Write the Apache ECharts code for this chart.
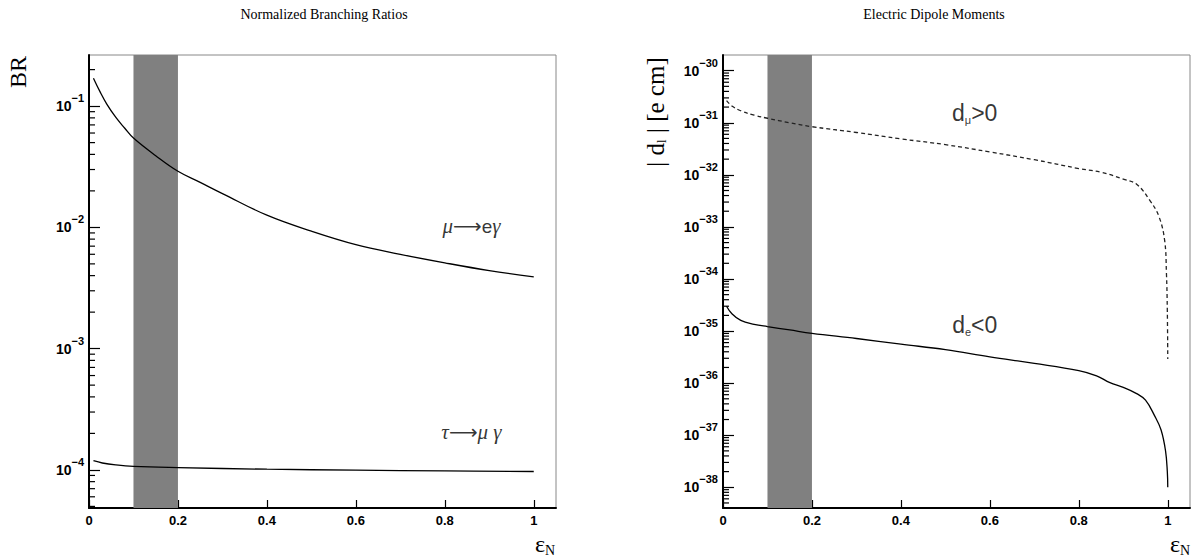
<!DOCTYPE html>
<html>
<head>
<meta charset="utf-8">
<script src="https://cdn.jsdelivr.net/npm/echarts@6.0.0/dist/echarts.min.js"></script>
<style>
  html, body { margin: 0; padding: 0; background: #fff; }
  #chart { width: 1194px; height: 556px; }
</style>
</head>
<body>
<div id="chart"></div>
<script>
  // ---- data ----
  const xTicks = [0, 0.2, 0.4, 0.6, 0.8, 1]
  const band = [0.1, 0.2]

  // left: normalized branching ratios
  const meg_x = [0.01, 0.025, 0.04, 0.06, 0.08, 0.1, 0.15, 0.2, 0.25, 0.3, 0.4, 0.5, 0.6, 0.7, 0.8, 0.9, 1.0]
  const meg_y = [0.17, 0.131, 0.104, 0.081, 0.066, 0.0545, 0.039, 0.029, 0.0235, 0.019, 0.0126, 0.0093, 0.0072, 0.0060, 0.0051, 0.0044, 0.0039]
  const tmg_x = [0.01, 0.03, 0.06, 0.1, 0.2, 0.4, 0.6, 0.8, 1.0]
  const tmg_y = [1.19e-4, 1.14e-4, 1.10e-4, 1.07e-4, 1.045e-4, 1.013e-4, 0.995e-4, 0.98e-4, 0.97e-4]

  // right: electric dipole moments |d_l| [e cm]
  const dmu_x = [0.008, 0.02, 0.04, 0.07, 0.1, 0.15, 0.2, 0.3, 0.4, 0.5, 0.6, 0.7, 0.8, 0.85, 0.9, 0.93, 0.96, 0.98, 0.993, 0.997, 0.999, 1.0]
  const dmu_y = [2.65e-31, 2.1e-31, 1.7e-31, 1.4e-31, 1.22e-31, 1.0e-31, 8.4e-32, 6.5e-32, 4.9e-32, 3.8e-32, 2.75e-32, 1.95e-32, 1.32e-32, 1.12e-32, 8.3e-33, 6.6e-33, 3.2e-33, 1.6e-33, 5.5e-34, 1.3e-34, 2.5e-35, 2.9e-36]
  const de_x = [0.008, 0.02, 0.04, 0.07, 0.1, 0.15, 0.2, 0.3, 0.4, 0.5, 0.6, 0.7, 0.8, 0.84, 0.87, 0.9, 0.93, 0.95, 0.97, 0.985, 0.995, 0.999, 1.0]
  const de_y = [3.0e-35, 2.15e-35, 1.6e-35, 1.35e-35, 1.22e-35, 1.05e-35, 9.0e-36, 7.2e-36, 5.6e-36, 4.4e-36, 3.2e-36, 2.4e-36, 1.74e-36, 1.38e-36, 1.02e-36, 8.3e-37, 6.3e-37, 4.7e-37, 2.4e-37, 1.26e-37, 5.0e-38, 2.0e-38, 1.0e-38]

  // axis ranges (decades) and major ticks
  const leftRange = [4.85e-5, 0.264]
  const leftDecades = [-4, -3, -2, -1]
  const rightRange = [4.0e-39, 2.0e-30]
  const rightDecades = [-38, -37, -36, -35, -34, -33, -32, -31, -30]

  // curve labels: [x, value]
  const megLabelPos = [0.86, 1.02e-2]
  const tmgLabelPos = [0.86, 2.06e-4]
  const dmuLabelPos = [0.566, 1.55e-31]
  const deLabelPos = [0.566, 1.32e-35]

  const lg = Math.log10
  const pts = (xs, ys) => xs.map((x, i) => [x, lg(ys[i])])

  // positions of the 2..9 minor ticks of each decade, in exponent units
  function minorTicks(range) {
    const out = []
    const lo = Math.floor(lg(range[0])), hi = Math.ceil(lg(range[1]))
    for (let n = lo; n <= hi; n++) {
      for (let k = 2; k <= 9; k++) {
        const v = lg(k) + n
        if (v > lg(range[0]) && v < lg(range[1])) out.push(v)
      }
    }
    return out
  }

  const sans = '"Liberation Sans", Arial, sans-serif'
  const serif = '"Liberation Serif", "Times New Roman", serif'

  const expLabel = {
    inside: false,
    margin: 5,
    formatter: v => '{b|10}{e|\u2212' + Math.abs(Math.round(v)) + '}',
    rich: {
      b: { fontFamily: sans, fontSize: 14, fontWeight: 'bold', color: '#000' },
      e: { fontFamily: sans, fontSize: 11, fontWeight: 'bold', color: '#000', padding: [0, 0, 16, 0] }
    }
  }

  function yAx(grid, range, decades) {
    return {
      type: 'value', gridIndex: grid, position: 'left',
      min: lg(range[0]), max: lg(range[1]),
      axisLine: { show: true, lineStyle: { color: '#000', width: 2 } },
      axisTick: { show: true, inside: true, length: 11, customValues: decades, lineStyle: { color: '#000', width: 1.2 } },
      axisLabel: Object.assign({ customValues: decades }, expLabel),
      splitLine: { show: false }
    }
  }
  function xAx(grid) {
    return {
      type: 'value', gridIndex: grid, min: 0, max: 1.05,
      axisLine: { show: true, lineStyle: { color: '#000', width: 2 } },
      axisTick: { show: true, inside: true, length: 8, customValues: xTicks, lineStyle: { color: '#000', width: 1.2 } },
      axisLabel: { customValues: xTicks, margin: 6, fontFamily: sans, fontSize: 13, fontWeight: 'bold', color: '#000' },
      splitLine: { show: false }
    }
  }

  // short minor ticks on the left axis, placed by the y scale
  function minorTickSeries(ai, range) {
    return {
      type: 'custom', xAxisIndex: ai, yAxisIndex: ai, silent: true, z: 5, clip: false,
      data: minorTicks(range).map(v => [0, v]),
      renderItem: (params, api) => {
        const p = api.coord([0, api.value(1)])
        return { type: 'line', shape: { x1: p[0], y1: p[1], x2: p[0] + 6, y2: p[1] }, style: { stroke: '#000', lineWidth: 1.2 } }
      }
    }
  }

  const bandArea = {
    silent: true,
    itemStyle: { color: '#808080', opacity: 1 },
    data: [[{ xAxis: band[0] }, { xAxis: band[1] }]]
  }

  function curve(ai, data, dashed) {
    return {
      type: 'line', xAxisIndex: ai, yAxisIndex: ai, data: data,
      showSymbol: false, smooth: 0.4, z: 3,
      lineStyle: { color: dashed ? '#222' : '#000', width: 1.3, type: dashed ? [4, 3] : 'solid' }
    }
  }
  function textMark(ai, pos, text, rich) {
    return {
      type: 'scatter', xAxisIndex: ai, yAxisIndex: ai, symbolSize: 0, z: 4, silent: true,
      data: [[pos[0], lg(pos[1])]],
      label: { show: true, position: 'inside', formatter: text, rich: rich }
    }
  }

  const greek = {
    g: { fontFamily: serif, fontStyle: 'italic', fontSize: 21, color: '#000' },
    a: { fontFamily: '"DejaVu Sans", sans-serif', fontSize: 20, color: '#000' },
    e: { fontFamily: sans, fontSize: 19, color: '#000' }
  }
  const dRich = {
    d: { fontFamily: sans, fontSize: 23, color: '#000' },
    s: { fontFamily: sans, fontSize: 11, color: '#000', padding: [14, 0, 0, 0] }
  }

  const meg = curve(0, pts(meg_x, meg_y), false)
  meg.markArea = bandArea
  const dmu = curve(1, pts(dmu_x, dmu_y), true)
  dmu.markArea = bandArea

  const chart = echarts.init(document.getElementById('chart'), null, { renderer: 'svg' })
  const option = {
    animation: false,
    backgroundColor: '#fff',
    grid: [
      { left: 89, top: 55, width: 467, height: 453, show: true, borderColor: '#888', borderWidth: 1, backgroundColor: 'transparent' },
      { left: 723, top: 55, width: 467, height: 453, show: true, borderColor: '#888', borderWidth: 1, backgroundColor: 'transparent' }
    ],
    xAxis: [xAx(0), xAx(1)],
    yAxis: [yAx(0, leftRange, leftDecades), yAx(1, rightRange, rightDecades)],
    graphic: [
      { type: 'text', x: 324, y: 14, style: { text: 'Normalized Branching Ratios', font: '14px ' + serif, fill: '#000', align: 'center', verticalAlign: 'middle' } },
      { type: 'text', x: 934, y: 14, style: { text: 'Electric Dipole Moments', font: '14px ' + serif, fill: '#000', align: 'center', verticalAlign: 'middle' } },
      { type: 'text', x: 18, y: 72, rotation: Math.PI / 2, style: { text: 'BR', font: '24px ' + serif, fill: '#000', align: 'center', verticalAlign: 'middle' } },
      { type: 'text', x: 655, y: 112, rotation: Math.PI / 2, style: {
          text: '{t|| d}{s|l}{t| | [e cm]}', align: 'center', verticalAlign: 'middle',
          rich: { t: { font: '25px ' + serif, fill: '#000' }, s: { font: '13px ' + serif, fill: '#000', padding: [12, 0, 0, 0] } } } },
      { type: 'text', x: 545, y: 544, style: {
          text: '{t|\u03b5}{s|N}', align: 'center', verticalAlign: 'middle',
          rich: { t: { font: '24px ' + serif, fill: '#000' }, s: { font: '14px ' + serif, fill: '#000', padding: [12, 0, 0, 0] } } } },
      { type: 'text', x: 1180, y: 544, style: {
          text: '{t|\u03b5}{s|N}', align: 'center', verticalAlign: 'middle',
          rich: { t: { font: '24px ' + serif, fill: '#000' }, s: { font: '14px ' + serif, fill: '#000', padding: [12, 0, 0, 0] } } } }
    ],
    series: [
      meg,
      curve(0, pts(tmg_x, tmg_y), false),
      dmu,
      curve(1, pts(de_x, de_y), false),
      minorTickSeries(0, leftRange),
      minorTickSeries(1, rightRange),
      textMark(0, megLabelPos, '{g|\u03bc}{a|\u27f6}{e|e}{g|\u03b3}', greek),
      textMark(0, tmgLabelPos, '{g|\u03c4}{a|\u27f6}{g|\u03bc \u03b3}', greek),
      textMark(1, dmuLabelPos, '{d|d}{s|\u03bc}{d|>0}', dRich),
      textMark(1, deLabelPos, '{d|d}{s|e}{d|<0}', dRich)
    ]
  }
  chart.setOption(option)
</script>
</body>
</html>
